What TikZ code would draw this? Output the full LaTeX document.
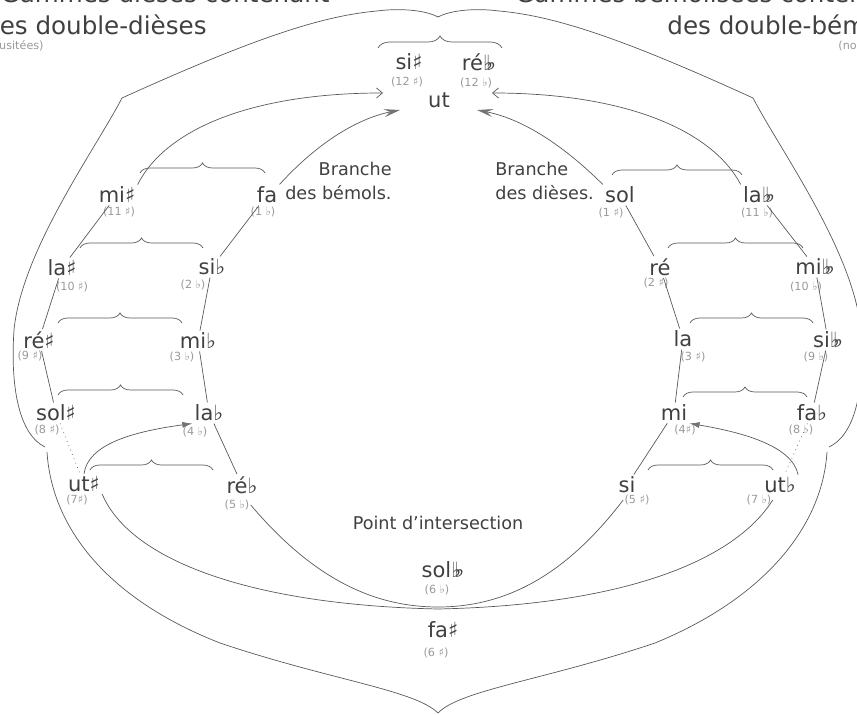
\documentclass[tikz,border=0pt]{standalone}
\usepackage{fontspec}
\setmainfont{DejaVu Sans}
\usetikzlibrary{arrows.meta,decorations.pathreplacing}

\newcommand{\di}{♯}
\newcommand{\be}{♭}
\newcommand{\dbe}{♭\kern-0.32em♭}

\begin{document}
\begin{tikzpicture}[x=0.5pt, y=-0.5pt,
    note/.style={font=\fontsize{10.5}{12}\selectfont, text=black!75, inner sep=1pt},
    num/.style={font=\fontsize{5.6}{6}\selectfont, text=black!40, inner sep=0.5pt},
    branche/.style={font=\fontsize{8.8}{12}\selectfont, text=black!75, inner sep=0pt},
    titre/.style={font=\fontsize{12.3}{15}\selectfont, text=black!75, inner sep=0pt},
    trait/.style={black!65, line width=0.35pt},
    pointille/.style={trait, dotted},
    accolade/.style={trait, decorate, decoration={brace, amplitude=#1}},
    accolade/.default=5pt,
    fleche/.style={trait, -{Straight Barb[length=3pt, width=5pt]}},
    flechegrise/.style={trait, -{Stealth[length=8pt, width=4pt, inset=3pt, black!55]}},
    pointe/.style={trait, -{Latex[length=5pt, width=3pt, black!55]}}
]
\useasboundingbox (0,0) rectangle (857,715);

% Titres (coupés par le bord)
\node[titre, anchor=base east] (titre-g1) at (330,3) {Gammes dièses contenant};
\node[titre, anchor=base east] (titre-g2) at (207,35) {des double-dièses};
\node[num, anchor=east] (titre-g3) at (45,46) {(non usitées)};
\node[titre, anchor=base west] (titre-d1) at (515,3) {Gammes bémolisées contenant};
\node[titre, anchor=base west] (titre-d2) at (667,35) {des double-bémols};
\node[num, anchor=west] (titre-d3) at (837,46) {(non usitées)};

% Sommet
\node[note] (sis) at (409,62) {si\di};
\node[num] (sis-n) at (407,82) {(12 \di)};
\node[note] (rebb) at (479,62) {ré\dbe};
\node[num] (rebb-n) at (476,83) {(12 \be)};
\node[note] (ut) at (439,100) {ut};

% Gammes dièses contenant des double-dièses
\node[note] (mis) at (117,195) {mi\di};
\node[num] (mis-n) at (119,212) {(11 \di)};
\node[note] (las) at (62,268) {la\di};
\node[num] (las-n) at (72,287) {(10 \di)};
\node[note] (res) at (39,340) {ré\di};
\node[num] (res-n) at (30,356) {(9 \di)};
\node[note] (sols) at (56,413) {sol\di};
\node[num] (sols-n) at (47,430) {(8 \di)};
\node[note] (uts) at (84,484) {ut\di};
\node[num] (uts-n) at (77,500) {(7\di)};

% Branche des bémols
\node[note] (fa) at (267,195) {fa};
\node[num] (fa-n) at (263,212) {(1 \be)};
\node[note] (sib) at (212,267) {si\be};
\node[num] (sib-n) at (193,285) {(2 \be)};
\node[note] (mib) at (198,341) {mi\be};
\node[num] (mib-n) at (182,357) {(3 \be)};
\node[note] (lab) at (209,413) {la\be};
\node[num] (lab-n) at (195,432) {(4 \be)};
\node[note] (reb) at (242,485) {ré\be};
\node[num] (reb-n) at (237,505) {(5 \be)};

% Branche des dièses
\node[note] (sol) at (620,195) {sol};
\node[num] (sol-n) at (611,213) {(1 \di)};
\node[note] (re) at (660,267) {ré};
\node[num] (re-n) at (656,283) {(2 \di)};
\node[note] (la) at (683,339) {la};
\node[num] (la-n) at (693,357) {(3 \di)};
\node[note] (mi) at (674,413) {mi};
\node[num] (mi-n) at (685,430) {(4\di)};
\node[note] (si) at (627,485) {si};
\node[num] (si-n) at (637,500) {(5 \di)};

% Gammes bémolisées contenant des double-bémols
\node[note] (labb) at (759,195) {la\dbe};
\node[num] (labb-n) at (757,213) {(11 \be)};
\node[note] (mibb) at (815,267) {mi\dbe};
\node[num] (mibb-n) at (806,287) {(10 \be)};
\node[note] (sibb) at (828,340) {si\dbe};
\node[num] (sibb-n) at (816,357) {(9 \be)};
\node[note] (fab) at (812,413) {fa\be};
\node[num] (fab-n) at (801,430) {(8 \be)};
\node[note] (utb) at (780,485) {ut\be};
\node[num] (utb-n) at (759,500) {(7 \be)};

% Point d'intersection
\node[branche] (inter) at (438,523) {Point d'intersection};
\node[note] (solbb) at (443,570) {sol\dbe};
\node[num] (solbb-n) at (437,590) {(6 \be)};
\node[note] (fas) at (443,630) {fa\di};
\node[num] (fas-n) at (436,653) {(6 \di)};

\node[branche, align=right, anchor=east] (br-b) at (392,181) {Branche\\des bémols.};
\node[branche, align=left, anchor=west] (br-d) at (495,181) {Branche\\des dièses.};

% Chaînes de quintes
\draw[trait] (mis) -- (las);
\draw[trait] (las) -- (res);
\draw[trait] (res) -- (sols);
\draw[pointille] (sols) -- (uts);

\draw[trait] (fa) -- (sib);
\draw[trait] (sib) -- (mib);
\draw[trait] (mib) -- (lab);
\draw[trait] (lab) -- (reb);

\draw[trait] (sol) -- (re);
\draw[trait] (re) -- (la);
\draw[trait] (la) -- (mi);
\draw[trait] (mi) -- (si);

\draw[trait] (labb) -- (mibb);
\draw[trait] (mibb) -- (sibb);
\draw[trait] (sibb) -- (fab);
\draw[pointille] (fab) -- (utb);

% Vers ut
\coordinate (ut-g) at (383,93);
\coordinate (ut-d) at (492,93);
\coordinate (ut-bg) at (400,110);
\coordinate (ut-bd) at (477,110);
\draw[fleche] (mis.north east) .. controls (165,130) and (250,93) .. (ut-g);
\draw[fleche] (labb.north west) .. controls (712,130) and (625,93) .. (ut-d);
\draw[flechegrise] (fa.north east) .. controls (320,140) and (360,118) .. (ut-bg);
\draw[flechegrise] (sol.north west) .. controls (558,140) and (518,118) .. (ut-bd);

% Enharmonies
\draw[pointe] (uts.north) .. controls (88,445) and (130,432) .. (lab.south west);
\draw[pointe] (utb.north east) .. controls (792,445) and (740,432) .. (mi.south east);

% Les deux branches se croisent en bas
\draw[trait] (reb-n.east) .. controls (310,575) and (370,607) .. (438,607)
  .. controls (506,607) and (566,575) .. (si-n.west);
\draw[trait] (uts.south east) .. controls (130,560) and (250,605) .. (438,609)
  .. controls (626,605) and (735,560) .. (utb-n.east);

% Accolades
\draw[accolade=6pt] (378,48) -- (502,48);
\draw[accolade] (140,173) -- (265,173);
\draw[accolade] (80,248) -- (203,248);
\draw[accolade] (58,323) -- (182,323);
\draw[accolade] (58,395) -- (183,395);
\draw[accolade] (90,470) -- (213,470);
\draw[accolade] (612,175) -- (742,175);
\draw[accolade] (668,248) -- (803,248);
\draw[accolade] (690,323) -- (813,323);
\draw[accolade] (683,397) -- (807,397);
\draw[accolade] (648,470) -- (773,470);

% Grandes accolades extérieures
\draw[trait] (438,17) .. controls (425,10) and (400,8) .. (377,11)
  .. controls (320,16) and (250,40) .. (122,98)
  .. controls (95,150) and (22,250) .. (14,330)
  .. controls (10,390) and (20,435) .. (45,447);
\draw[trait] (47,452) .. controls (52,530) and (110,600) .. (220,643)
  .. controls (330,680) and (415,690) .. (438,713);
\draw[trait] (438,17) .. controls (451,10) and (476,8) .. (499,11)
  .. controls (556,16) and (626,40) .. (753,98)
  .. controls (780,150) and (853,250) .. (861,330)
  .. controls (865,390) and (855,435) .. (829,447);
\draw[trait] (827,452) .. controls (822,530) and (760,600) .. (655,643)
  .. controls (545,680) and (460,690) .. (438,713);

\end{tikzpicture}
\end{document}
